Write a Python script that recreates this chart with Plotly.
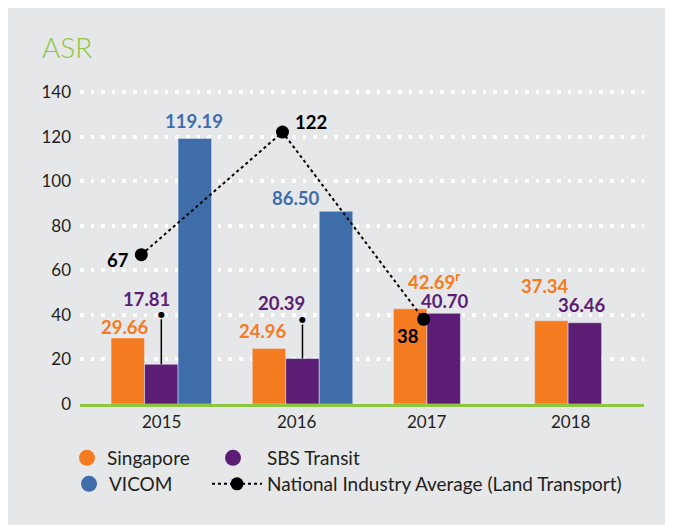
import plotly.graph_objects as go

# ---------------- data ----------------
years = ["2015", "2016", "2017", "2018"]
singapore = [29.66, 24.96, 42.69, 37.34]
sbs_transit = [17.81, 20.39, 40.70, 36.46]
vicom = [119.19, 86.50, None, None]
national_avg = [67, 122, 38, None]

singapore_text = ["29.66", "24.96", "42.69<sup>r</sup>", "37.34"]
sbs_text = ["17.81", "20.39", "40.70", "36.46"]
vicom_text = ["119.19", "86.50", "", ""]
national_text = ["67", "122", "38", ""]
y_ticks = [0, 20, 40, 60, 80, 100, 120, 140]

# ---------------- style ----------------
ORANGE = "#f47b20"
PURPLE = "#5c1e74"
BLUE = "#3f6daa"
GREEN = "#8dc63f"
BG = "#e6e7e8"
TXT = "#231f20"
FONT = "Lato, 'Open Sans', sans-serif"

OFF = 8  # page body margin
W, H = 673 - OFF, 525 - OFF
ML, MR, MT, MB = 80 - OFF, 29, 88 - OFF, 121
PW = W - ML - MR
PH = H - MT - MB

# label pixel offsets (dx, dy up) relative to each bar top/center
sg_off = [(-3, 11), (-6, 17), (24, 28), (-6, 35)]
sbs_off = [(-15, 65), (-21, 56), (1, 12), (-3, 18)]
vc_off = [(-1, 17), (-40, 13), (0, 0), (0, 0)]
nat_off = [(-23, -5), (29, 10), (-16, -17), (0, 0)]
leader_len = [50, 39, None, None]
year_shift = [0, -5, -17, -14]
SLOT = 33.5
LBL_SIZE = 18.5

fig = go.Figure()

fig.add_trace(go.Bar(x=years, y=singapore, name="Singapore", marker_color=ORANGE,
                     showlegend=False, hoverinfo="skip"))
fig.add_trace(go.Bar(x=years, y=sbs_transit, name="SBS Transit", marker_color=PURPLE,
                     showlegend=False, hoverinfo="skip"))
fig.add_trace(go.Bar(x=years, y=vicom, name="VICOM", marker_color=BLUE,
                     showlegend=False, hoverinfo="skip"))

# legend-only entries with round symbols
fig.add_trace(go.Scatter(x=[None], y=[None], mode="markers", name="Singapore",
                         marker=dict(color=ORANGE, size=18), legend="legend"))
fig.add_trace(go.Scatter(x=[None], y=[None], mode="markers", name="SBS Transit",
                         marker=dict(color=PURPLE, size=18), legend="legend2"))
fig.add_trace(go.Scatter(x=[None], y=[None], mode="markers", name="VICOM",
                         marker=dict(color=BLUE, size=18), legend="legend3"))

fig.add_trace(go.Scatter(x=years, y=national_avg, xaxis="x2", yaxis="y",
                         mode="lines+markers", name="National Industry Average (Land Transport)",
                         line=dict(color="black", width=2, dash="dot"),
                         marker=dict(color="black", size=13),
                         legend="legend4", connectgaps=False, hoverinfo="skip"))

ann = []
for i, yr in enumerate(years):
    ann.append(dict(x=i, y=0, xref="x", yref="y", text=yr, showarrow=False,
                    xshift=year_shift[i], yshift=-17, yanchor="middle",
                    font=dict(family=FONT, size=17, color=TXT)))


def lbl(color):
    return dict(family=FONT, size=LBL_SIZE, color=color, weight="bold")


for i, yr in enumerate(years):
    if singapore[i] is not None:
        dx, dy = sg_off[i]
        ann.append(dict(x=i, y=singapore[i], xref="x", yref="y", text=singapore_text[i],
                        showarrow=False, xshift=-SLOT + dx, yshift=dy, font=lbl(ORANGE)))
    if sbs_transit[i] is not None:
        dx, dy = sbs_off[i]
        ann.append(dict(x=i, y=sbs_transit[i], xref="x", yref="y", text=sbs_text[i],
                        showarrow=False, xshift=dx, yshift=dy, font=lbl(PURPLE)))
    if vicom[i] is not None:
        dx, dy = vc_off[i]
        ann.append(dict(x=i, y=vicom[i], xref="x", yref="y", text=vicom_text[i],
                        showarrow=False, xshift=SLOT + dx, yshift=dy, font=lbl(BLUE)))
    if national_avg[i] is not None:
        dx, dy = nat_off[i]
        ann.append(dict(x=i, y=national_avg[i], xref="x2", yref="y", text=national_text[i],
                        showarrow=False, xshift=dx, yshift=dy, font=lbl("black")))

# leader lines from the SBS Transit bars up to their labels, ending in a dot
for i, yr in enumerate(years):
    if leader_len[i] is not None:
        ann.append(dict(x=i, y=sbs_transit[i], xref="x", yref="y", text="●",
                        font=dict(family="DejaVu Sans", size=8, color="black"), borderpad=0,
                        showarrow=True, ax=0, ay=-leader_len[i], arrowhead=0,
                        arrowwidth=1.5, arrowcolor="black", standoff=0))

r0, r1 = -0.576, 3.419
shift = 20 / (PW / (r1 - r0))

legend_common = dict(orientation="h", xref="container", yref="container", xanchor="left",
                     yanchor="middle", bgcolor="rgba(0,0,0,0)",
                     font=dict(family=FONT, size=19, color=TXT))
row_y = [1 - (458 - OFF) / H, 1 - (484 - OFF) / H]

fig.update_layout(
    width=W, height=H,
    margin=dict(l=ML, r=MR, t=MT, b=MB, pad=0),
    paper_bgcolor=BG, plot_bgcolor=BG,
    barmode="group", bargap=0.288, bargroupgap=0,
    font=dict(family=FONT, size=17, color=TXT),
    title=dict(text="ASR", xref="container", yref="container", x=(42 - OFF) / W, xanchor="left",
               y=1 - (48 - OFF) / H, yanchor="middle",
               font=dict(family=FONT, size=28, color=GREEN, weight=300)),
    xaxis=dict(type="category", categoryorder="array", categoryarray=years,
               range=[r0, r1], showgrid=False, showline=True, linecolor=GREEN, linewidth=3,
               showticklabels=False, ticks="", zeroline=False, fixedrange=True),
    xaxis2=dict(type="category", categoryorder="array", categoryarray=years,
                overlaying="x", range=[r0 + shift, r1 + shift], visible=False, fixedrange=True),
    yaxis=dict(range=[0, 141.8], tickvals=y_ticks, showgrid=True, gridcolor="white",
               gridwidth=3.5, griddash="3.5px,7.1px", zeroline=False, showline=False,
               ticks="", ticklabelstandoff=8, tickfont=dict(size=17, color=TXT), fixedrange=True),
    legend=dict(legend_common, x=(67 - OFF) / W, y=row_y[0]),
    legend2=dict(legend_common, x=(199 - OFF) / W, y=row_y[0], itemwidth=58),
    legend3=dict(legend_common, x=(69 - OFF) / W, y=row_y[1]),
    legend4=dict(legend_common, x=(207 - OFF) / W, y=row_y[1], itemwidth=50),
    annotations=ann,
)

fig.write_html("out.html")
